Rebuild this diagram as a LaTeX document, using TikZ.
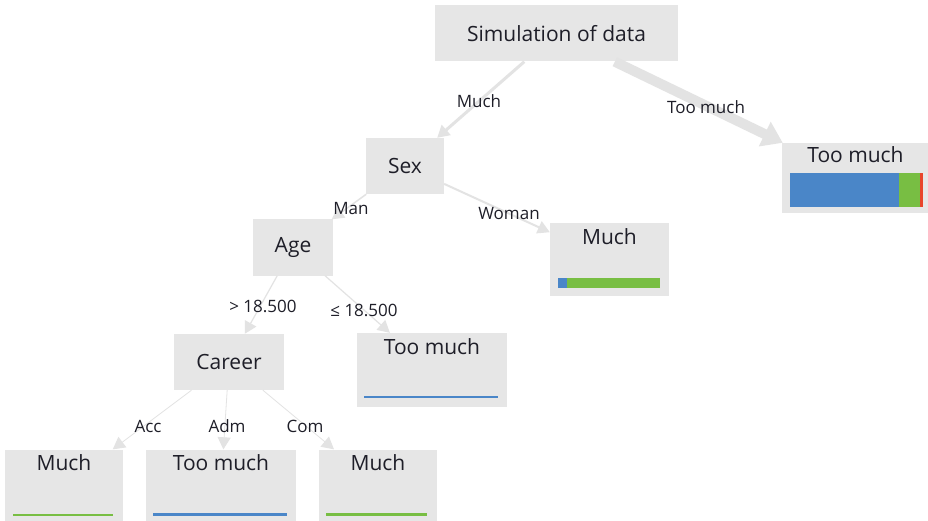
\documentclass[tikz,border=0pt]{standalone}
\usepackage{fontspec}
\setmainfont{Open Sans}
\usepackage{tikz}
\usepackage{xcolor}
\usetikzlibrary{arrows.meta, positioning}

\definecolor{boxgray}{HTML}{E6E6E6}
\definecolor{linkgray}{HTML}{E3E3E3}
\definecolor{barblue}{HTML}{4A86C8}
\definecolor{bargreen}{HTML}{78BE43}
\definecolor{barred}{HTML}{E8452C}
\definecolor{inkdark}{HTML}{1E1E28}

\tikzset{
  split/.style={fill=boxgray, text=inkdark, minimum height=56pt, inner xsep=22pt, font=\fontsize{21}{25}\selectfont},
  leaf/.style={fill=boxgray, text=inkdark, inner sep=0pt, text height=21pt, text depth=52pt, font=\fontsize{21}{25}\selectfont},
  lbl/.style={text=inkdark, inner sep=1pt, font=\fontsize{17}{20}\selectfont},
  link/.style={draw=linkgray, -{Triangle[width=13pt,length=12pt]}},
}

\begin{document}
\begin{tikzpicture}[x=1pt, y=-1pt, node distance=3cm, on grid]
\useasboundingbox[fill=white] (0,0) rectangle (928,521);

\node[split, minimum width=243pt] (root) at (556.5,33.5) {Simulation of data};
\node[split, below left=132.5pt and 151.5pt of root] (sex) {Sex};
\node[leaf, text height=20pt, text depth=50pt, minimum width=147pt, below right=144.5pt and 299pt of root] (tmA) {Too much};
\node[split, below left=81.5pt and 112pt of sex] (age) {Age};
\node[leaf, minimum width=119pt, below right=93.5pt and 204.5pt of sex] (muchA) {Much};
\node[split, below left=114.5pt and 64pt of age] (career) {Career};
\node[leaf, minimum width=150pt, text depth=53pt, below right=122.5pt and 139pt of age] (tmB) {Too much};
\node[leaf, minimum width=118pt, below left=124pt and 165pt of career] (muchB) {Much};
\node[leaf, minimum width=150pt, below left=124pt and 8pt of career] (tmC) {Too much};
\node[leaf, minimum width=118pt, below right=124pt and 149pt of career] (muchC) {Much};

% class bars
\fill[barblue] ([xshift=8pt,yshift=6pt]tmA.south west) rectangle +(109pt,34pt);
\fill[bargreen] ([xshift=117pt,yshift=6pt]tmA.south west) rectangle +(21pt,34pt);
\fill[barred] ([xshift=138pt,yshift=6pt]tmA.south west) rectangle +(3pt,34pt);
\fill[barblue] ([xshift=8pt,yshift=8pt]muchA.south west) rectangle +(9pt,10pt);
\fill[bargreen] ([xshift=17pt,yshift=8pt]muchA.south west) rectangle +(93pt,10pt);
\fill[barblue] ([xshift=7pt,yshift=9pt]tmB.south west) rectangle +(134pt,2pt);
\fill[bargreen] ([xshift=8pt,yshift=7pt]muchB.south west) rectangle +(100pt,2pt);
\fill[barblue] ([xshift=7pt,yshift=7pt]tmC.south west) rectangle +(134pt,2.5pt);
\fill[bargreen] ([xshift=7pt,yshift=7pt]muchC.south west) rectangle +(101pt,3pt);

% links
\draw[link, line width=3pt] (root) -- (sex);
\draw[link, line width=10pt, -{Triangle[width=26pt,length=20pt]}] (root) -- (tmA);
\draw[link, line width=1.5pt] (sex) -- (age);
\draw[link, line width=2pt] (sex) -- (muchA);
\draw[link, line width=1.2pt] (age) -- (career);
\draw[link, line width=1.2pt] (age) -- (tmB);
\draw[link, line width=0.8pt] (career) -- (muchB);
\draw[link, line width=0.8pt] (career) -- (tmC);
\draw[link, line width=0.8pt] (career) -- (muchC);

% link labels
\node[lbl] (lMuch) at (479,101) {Much};
\node[lbl] (lTooMuch) at (706,107) {Too much};
\node[lbl] (lMan) at (351,209) {Man};
\node[lbl] (lWoman) at (509,214) {Woman};
\node[lbl] (lOver) at (263,306) {> 18.500};
\node[lbl] (lUnder) at (364,310) {≤ 18.500};
\node[lbl] (lAcc) at (148,426) {Acc};
\node[lbl] (lAdm) at (227,426) {Adm};
\node[lbl] (lCom) at (305,426) {Com};
\end{tikzpicture}
\end{document}
